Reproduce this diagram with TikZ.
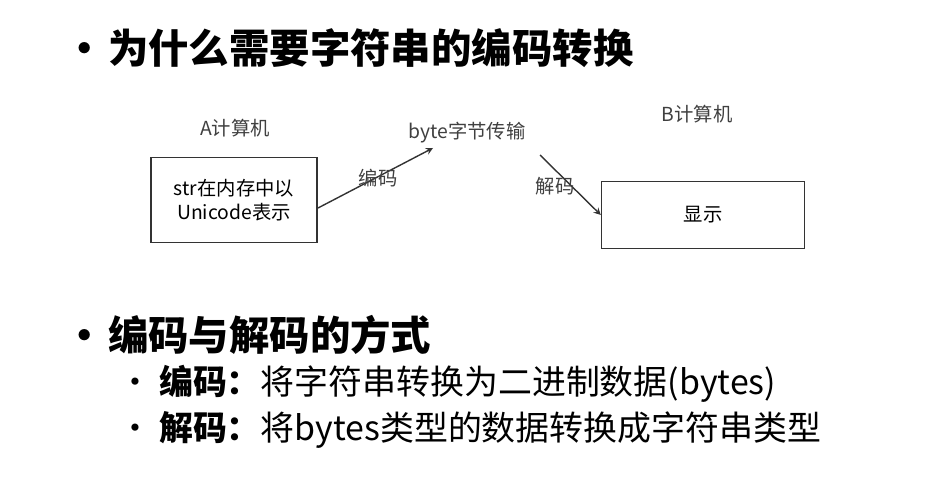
\documentclass[tikz,border=0pt]{standalone}
\usepackage{fontspec}
\setmainfont{Noto Sans CJK SC}
\usetikzlibrary{positioning}
\begin{document}
\begin{tikzpicture}[x=0.02cm,y=-0.02cm,
	lbl/.style={font=\fontsize{11}{13}\selectfont,text=black!75},
	pc/.style={draw=black!80,thick,minimum width=3.32cm,minimum height=1.7cm,font=\fontsize{11}{14}\selectfont,align=center},
	head/.style={anchor=west,font=\fontsize{23}{26}\selectfont\bfseries},
	item/.style={anchor=west,font=\fontsize{19.3}{22}\selectfont}]
	\useasboundingbox (0,0) rectangle (952,489);
	
	\node[head] (t1) at (58,48) {•\hspace{2pt}为什么需要字符串的编码转换};
	
	\node[lbl] (ta) at (235,128) {A计算机};
	\node[pc] (a) at (234,200) {str在内存中以\\Unicode表示};
	\node[lbl] (mid) at (467,133) {byte字节传输};
	\node[lbl] (tb) at (697,114) {B计算机};
	\node[pc,minimum width=4.06cm,minimum height=1.34cm] (b) at (703,215) {显示};
	
	\coordinate (s1) at (318,208);
	\coordinate (e1) at (433,148);
	\coordinate (s2) at (540,155);
	\draw[-stealth,thick,black!80] (s1)--(e1);
	\draw[-stealth,thick,black!80] (s2)--(b.west);
	\node[lbl] (enc) at (378,178) {编码};
	\node[lbl] (dec) at (555,186) {解码};
	
	\node[head] (t2) at (58,335) {•\hspace{2pt}编码与解码的方式};
	\node[item] (i1) at (112,384) {•\hspace{4pt}\textbf{编码：}将字符串转换为二进制数据(bytes)};
	\node[item] (i2) at (112,430) {•\hspace{4pt}\textbf{解码：}将bytes类型的数据转换成字符串类型};
\end{tikzpicture}
\end{document}
